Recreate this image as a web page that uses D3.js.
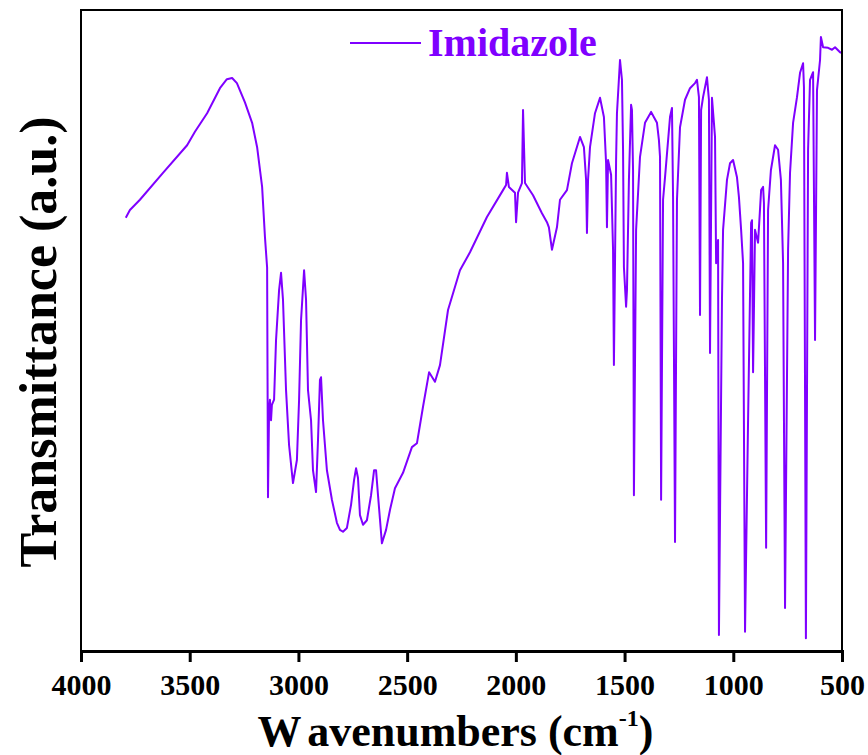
<!DOCTYPE html>
<html>
<head>
<meta charset="utf-8">
<script src="https://cdn.jsdelivr.net/npm/d3@7"></script>
<style>
  html, body { margin: 0; padding: 0; background: #fff; }
  svg { display: block; }
</style>
</head>
<body>
<svg id="chart" width="868" height="755"></svg>
<script>
// FTIR spectrum of imidazole: wavenumber (cm-1) and transmittance (a.u.)
const wavenumbers = [
  3794, 3775, 3729, 3623, 3512, 3476, 3420, 3361, 3329, 3305, 3283, 3246, 3213, 3190, 3167, 3154, 3144, 3142, 3140, 3135,
  3131, 3126, 3122, 3112, 3103, 3089, 3080, 3071, 3057, 3043, 3025, 3007, 2997, 2988, 2974, 2965, 2956, 2942, 2933, 2919,
  2910, 2901, 2896, 2887, 2869, 2846, 2823, 2809, 2795, 2777, 2758, 2744, 2735, 2726, 2717, 2703, 2685, 2666, 2652, 2643,
  2634, 2616, 2597, 2579, 2556, 2519, 2478, 2455, 2427, 2399, 2372, 2349, 2312, 2257, 2211, 2133, 2059, 2045, 2041, 2032,
  2004, 1999, 1990, 1972, 1967, 1958, 1921, 1880, 1857, 1848, 1834, 1811, 1797, 1765, 1742, 1705, 1687, 1677, 1673, 1668,
  1659, 1636, 1613, 1595, 1585, 1581, 1576, 1562, 1553, 1549, 1539, 1535, 1521, 1512, 1507, 1503, 1493, 1489, 1480, 1470,
  1466, 1461, 1457, 1447, 1429, 1406, 1378, 1351, 1342, 1337, 1332, 1323, 1314, 1291, 1282, 1277, 1268, 1259, 1245, 1222,
  1199, 1176, 1167, 1158, 1153, 1148, 1139, 1121, 1112, 1107, 1098, 1084, 1079, 1070, 1066, 1052, 1047, 1029, 1015, 1001,
  983, 974, 964, 955, 946, 932, 918, 914, 909, 900, 886, 872, 863, 859, 849, 840, 827, 808, 794, 781,
  771, 762, 748, 739, 725, 707, 693, 679, 675, 666, 656, 647, 633, 624, 615, 601, 597, 587, 564, 546,
  532, 509, 500
];
const transmittance = [
  67.6, 68.8, 70.4, 74.6, 78.9, 81.0, 83.9, 87.8, 89.2, 89.4, 88.6, 85.6, 82.4, 78.6, 72.4, 64.6, 59.8, 42.3, 24.0, 37.6,
  39.2, 36.0, 38.4, 39.2, 48.5, 56.3, 59.0, 54.8, 40.7, 32.1, 26.2, 29.8, 39.2, 51.6, 59.4, 54.8, 40.7, 36.0, 28.2, 24.8,
  32.9, 42.3, 42.7, 36.0, 28.2, 23.6, 20.0, 18.9, 18.6, 19.2, 22.8, 26.7, 28.5, 27.0, 21.2, 19.7, 20.4, 24.3, 28.2, 28.2,
  24.3, 16.8, 18.9, 22.0, 25.4, 27.8, 31.8, 32.4, 38.1, 43.5, 42.0, 44.6, 53.2, 59.4, 62.2, 67.7, 71.9, 72.7, 74.6, 72.4,
  71.5, 66.9, 71.5, 73.0, 84.4, 73.0, 71.1, 68.3, 66.9, 66.1, 62.6, 66.1, 70.4, 71.9, 76.1, 80.2, 78.6, 73.5, 65.2, 73.5,
  78.6, 83.9, 86.3, 83.3, 76.1, 66.1, 76.6, 74.3, 62.6, 44.6, 76.6, 83.9, 92.2, 89.1, 78.2, 59.9, 53.7, 56.3, 73.5, 85.2,
  84.4, 75.0, 24.3, 65.7, 77.1, 82.4, 84.1, 82.4, 79.7, 77.1, 23.6, 70.4, 73.9, 83.3, 84.7, 70.8, 17.0, 70.4, 81.7, 86.0,
  87.8, 88.6, 89.1, 86.4, 52.4, 84.4, 86.4, 89.5, 86.0, 46.5, 86.3, 80.2, 60.5, 64.1, 2.5, 54.8, 65.7, 73.5, 76.1, 76.6,
  73.9, 70.8, 65.7, 60.5, 3.0, 36.0, 66.8, 67.2, 43.5, 65.7, 63.7, 71.9, 72.4, 69.9, 16.1, 68.8, 75.0, 78.9, 78.2, 73.5,
  60.5, 6.7, 62.6, 74.6, 82.4, 86.4, 90.2, 91.7, 88.0, 2.0, 78.2, 89.1, 90.3, 48.5, 87.5, 92.2, 95.8, 94.2, 94.1, 93.8,
  94.2, 93.4, 93.3
];
const xTicks = [4000, 3500, 3000, 2500, 2000, 1500, 1000, 500];
const seriesName = "Imidazole";
const seriesColor = "#7f00ff";

const spectrum = wavenumbers.map((w, i) => ({ w, t: transmittance[i] }));

const svg = d3.select("#chart");
const margin = { left: 81, right: 26, top: 10, bottom: 104 };
const W = 868, H = 755;
const plotW = W - margin.left - margin.right;
const plotH = H - margin.top - margin.bottom;

const x = d3.scaleLinear().domain([4000, 500]).range([margin.left, margin.left + plotW]);
const y = d3.scaleLinear().domain([0, 100]).range([margin.top + plotH, margin.top]);

const serif = "'Liberation Serif', 'Times New Roman', serif";

// spectrum trace
const line = d3.line().x(d => x(d.w)).y(d => y(d.t));
svg.append("path")
  .datum(spectrum)
  .attr("d", line)
  .attr("fill", "none")
  .attr("stroke", seriesColor)
  .attr("stroke-width", 2)
  .attr("stroke-linejoin", "round");

// frame
svg.append("rect")
  .attr("x", margin.left).attr("y", margin.top)
  .attr("width", plotW).attr("height", plotH)
  .attr("fill", "none").attr("stroke", "#000").attr("stroke-width", 2);

// bottom axis
const xAxis = d3.axisBottom(x).tickValues(xTicks).tickSize(11).tickPadding(12).tickFormat(d3.format("d"));
const gx = svg.append("g")
  .attr("transform", `translate(0,${margin.top + plotH})`)
  .call(xAxis);
gx.select(".domain").attr("stroke", "#000").attr("stroke-width", 3);
gx.selectAll(".tick line").attr("stroke", "#000").attr("stroke-width", 3);
gx.selectAll(".tick text")
  .attr("font-family", serif).attr("font-weight", "bold")
  .attr("font-size", 30).attr("fill", "#000");

// axis titles
const xt = svg.append("text")
  .attr("x", margin.left + plotW / 2 - 6).attr("y", 746)
  .attr("text-anchor", "middle")
  .attr("font-family", serif).attr("font-weight", "bold")
  .attr("font-size", 44).attr("fill", "#000");
xt.append("tspan").text("W");
xt.append("tspan").attr("dx", 8).text("avenumbers (cm");
xt.append("tspan").attr("font-size", 24).attr("dy", -20).text("-1");
xt.append("tspan").attr("dy", 20).text(")");

svg.append("text")
  .attr("transform", `translate(56,342) rotate(-90)`)
  .attr("text-anchor", "middle")
  .attr("font-family", serif).attr("font-weight", "bold")
  .attr("font-size", 52).attr("fill", "#000")
  .text("Transmittance (a.u.)");

// legend
const lg = svg.append("g").attr("transform", "translate(350,43)");
lg.append("line").attr("x1", 0).attr("x2", 71).attr("y1", 0).attr("y2", 0)
  .attr("stroke", seriesColor).attr("stroke-width", 2);
lg.append("text").attr("x", 78).attr("y", 13)
  .attr("font-family", serif).attr("font-weight", "bold")
  .attr("font-size", 40).attr("fill", seriesColor)
  .text(seriesName);
</script>
</body>
</html>
